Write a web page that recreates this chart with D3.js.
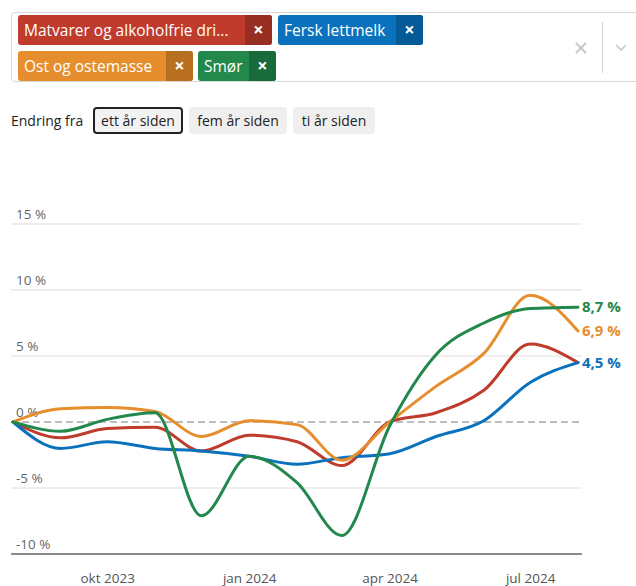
<!DOCTYPE html>
<html><head><meta charset="utf-8">
<script src="https://cdn.jsdelivr.net/npm/d3@7"></script>
<style>
html,body{margin:0;padding:0;background:#fff;width:636px;height:586px;overflow:hidden;font-family:"Open Sans","Noto Sans",sans-serif;}
#root{position:relative;width:636px;height:586px;}
.box{position:absolute;left:11px;top:12px;width:640px;height:70px;border:1px solid #d6d6d6;border-radius:4px;box-sizing:border-box;}
.tag{position:absolute;height:30px;border-radius:3px;color:#fff;font-size:15.5px;line-height:30px;overflow:hidden;white-space:nowrap;}
.tag .t{position:absolute;left:0;top:0;padding-left:6px;}
.tag .x{position:absolute;right:0;top:0;width:27px;height:30px;text-align:center;font-weight:bold;font-size:18px;line-height:29px;}
.btn{position:absolute;top:107px;height:27px;line-height:26px;font-size:14px;color:#222;background:#efefef;border-radius:4px;text-align:center;box-sizing:border-box;}
svg{position:absolute;left:0;top:0;}
</style></head>
<body><div id="root"></div>
<script>
// ---- data ----
const months = ["2023-08","2023-09","2023-10","2023-11","2023-12","2024-01","2024-02","2024-03","2024-04","2024-05","2024-06","2024-07","2024-08"];
const seriesNames = ["Matvarer og alkoholfrie drikkevarer","Fersk lettmelk","Ost og ostemasse","Smør"];
const tagLabels = ["Matvarer og alkoholfrie dri...","Fersk lettmelk","Ost og ostemasse","Smør"];
const matvarer = [0,-1.2,-0.5,-0.4,-2.2,-1.0,-1.5,-3.3,0.0,0.7,2.4,5.9,4.5];
const lettmelk = [0,-2.0,-1.5,-2.0,-2.2,-2.6,-3.2,-2.7,-2.4,-1.1,0.1,3.0,4.5];
const ost      = [0,1.0,1.1,0.8,-1.1,0.1,-0.2,-2.9,0.0,2.7,5.2,9.6,6.9];
const smor     = [0,-0.7,0.2,0.7,-7.1,-2.6,-4.6,-8.6,-0.3,5.1,7.5,8.6,8.7];
const yTicks = [-10,-5,0,5,10,15];
const xTickDates = ["2023-10","2024-01","2024-04","2024-07"];
const periodButtons = ["ett år siden","fem år siden","ti år siden"];
const colors = ["#bf3b2c","#0a72bd","#e68e2d","#22884b"];
const darkColors = ["#962e22","#055b97","#b86f1f","#1a6b3b"];

const allSeries = [matvarer,lettmelk,ost,smor];
const parse = d3.timeParse("%Y-%m");
const fmtMonth = d => ["jan","feb","mar","apr","mai","jun","jul","aug","sep","okt","nov","des"][d.getMonth()] + " " + d.getFullYear();

const root = d3.select("#root");

// ---- multi-select tags ----
root.append("div").attr("class","box");
const tagPos = [{l:18,t:15,w:254},{l:278,t:15,w:145},{l:18,t:51,w:175},{l:198,t:51,w:78}];
tagLabels.forEach((lab,i)=>{
  const tg = root.append("div").attr("class","tag")
    .style("left",tagPos[i].l+"px").style("top",tagPos[i].t+"px").style("width",tagPos[i].w+"px")
    .style("background",colors[i]);
  tg.append("span").attr("class","t").text(lab);
  tg.append("span").attr("class","x").style("background",darkColors[i]).text("×");
});

// ---- svg ----
const W=636,H=586;
const svg = root.append("svg").attr("width",W).attr("height",H);

// clear x, separator, chevron
svg.append("path").attr("d","M576,43 L586,53 M586,43 L576,53").attr("stroke","#c8c8c8").attr("stroke-width",2.2);
svg.append("line").attr("x1",602.5).attr("x2",602.5).attr("y1",22).attr("y2",73).attr("stroke","#d6d6d6");
svg.append("path").attr("d","M616,45 L621,50 L626,45").attr("stroke","#c8c8c8").attr("stroke-width",1.6).attr("fill","none");

// ---- period buttons ----
root.append("div").style("position","absolute").style("left","11px").style("top","111px")
  .style("font-size","14px").style("color","#222").text("Endring fra");
const btnPos=[{l:93,w:90},{l:189,w:98},{l:293,w:82}];
periodButtons.forEach((b,i)=>{
  root.append("div").attr("class","btn")
    .style("left",btnPos[i].l+"px").style("width",btnPos[i].w+"px")
    .style("border", i===0 ? "2px solid #222" : "none")
    .style("line-height", i===0 ? "23px":"27px")
    .style("background", i===0 ? "#f2f2f2":"#efefef")
    .text(b);
});

// ---- chart ----
const dates = months.map(parse);
const x = d3.scaleTime().domain([dates[0],dates[dates.length-1]]).range([13,578]);
const y = d3.scaleLinear().domain([-10,15]).range([554,224]);

const g = svg.append("g");
// grid
g.selectAll("line.grid").data(yTicks.filter(t=>t!==0 && t!==-10)).enter().append("line")
  .attr("x1",11).attr("x2",582).attr("y1",d=>y(d)).attr("y2",d=>y(d))
  .attr("stroke","#e9e9e9").attr("stroke-width",1.5);
// zero dashed
g.append("line").attr("x1",11).attr("x2",582).attr("y1",y(0)).attr("y2",y(0))
  .attr("stroke","#bdbdbd").attr("stroke-width",2).attr("stroke-dasharray","7,4");
// baseline
g.append("line").attr("x1",11).attr("x2",582).attr("y1",y(-10)).attr("y2",y(-10))
  .attr("stroke","#666").attr("stroke-width",1.5);
// y labels
g.selectAll("text.yl").data(yTicks).enter().append("text")
  .attr("x",16).attr("y",d=>y(d)-5).attr("font-size","13.5px").attr("fill","#666")
  .attr("font-family","Open Sans, sans-serif")
  .text(d=>d+" %");
// x axis labels via d3 axis
const xAxis = d3.axisBottom(x).tickValues(xTickDates.map(parse)).tickFormat(fmtMonth).tickSize(0).tickPadding(0);
const xa = g.append("g").attr("transform","translate(0,573)").call(xAxis);
xa.select(".domain").remove();
xa.selectAll("text").attr("font-size","13.5px").attr("fill","#555").attr("font-family","Open Sans, sans-serif");

// lines
const line = d3.line().x((d,i)=>x(dates[i])).y(d=>y(d)).curve(d3.curveMonotoneX);
allSeries.forEach((s,i)=>{
  g.append("path").attr("d",line(s)).attr("fill","none").attr("stroke",colors[i]).attr("stroke-width",3)
   .attr("stroke-linecap","round").attr("stroke-linejoin","round");
});
// end labels
const fmtVal = v => d3.format(".1f")(v).replace(".",",")+" %";
[smor,ost,lettmelk].forEach((s,k)=>{
  const i = [3,2,1][k];
  const v = s[s.length-1];
  g.append("text").attr("x",582).attr("y",y(v)).attr("dy","0.35em")
   .attr("font-size","15px").attr("font-weight","bold").attr("fill",colors[i])
   .attr("font-family","Open Sans, sans-serif").text(fmtVal(v));
});
</script></body></html>
